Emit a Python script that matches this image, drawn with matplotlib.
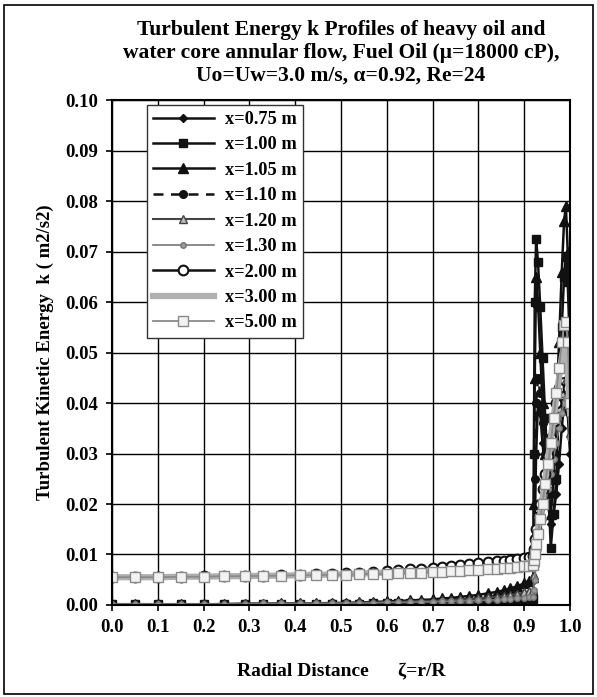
import matplotlib
matplotlib.use("Agg")
import matplotlib.pyplot as plt
from matplotlib.patches import Rectangle

plt.rcParams['font.family'] = ['Liberation Serif', 'DejaVu Serif']
plt.rcParams['font.weight'] = 'bold'

# Radial mesh: core (oil) region and annular (water) region
r_core = [0.00, 0.05, 0.10, 0.15, 0.20, 0.245, 0.29, 0.33, 0.37, 0.41, 0.445,
          0.48, 0.51, 0.54, 0.57, 0.60, 0.625, 0.65, 0.675, 0.70, 0.72, 0.74,
          0.76, 0.78, 0.80, 0.82, 0.84, 0.855, 0.87, 0.885, 0.90, 0.91, 0.92]
r_annulus = [0.921, 0.923, 0.926, 0.93, 0.935, 0.94, 0.946, 0.952, 0.958,
             0.964, 0.97, 0.976, 0.982, 0.987, 0.991, 0.995, 1.0]
r = r_core + r_annulus

k_075 = [0.0000, 0.0000, 0.0000, 0.0000, 0.0000, 0.0000, 0.0000, 0.0000, 0.0001, 0.0001, 0.0001,
         0.0001, 0.0001, 0.0001, 0.0001, 0.0001, 0.0002, 0.0002, 0.0002, 0.0002, 0.0002, 0.0003,
         0.0003, 0.0003, 0.0003, 0.0004, 0.0004, 0.0004, 0.0005, 0.0005, 0.0006, 0.0006, 0.0007,
         0.0050, 0.0150, 0.0300, 0.0400, 0.0380, 0.0320, 0.0260, 0.0200, 0.0160,
         0.0180, 0.0220, 0.0280, 0.0350, 0.0400, 0.0420, 0.0380, 0.0300]
k_100 = [0.0001, 0.0001, 0.0001, 0.0001, 0.0001, 0.0001, 0.0001, 0.0001, 0.0001, 0.0002, 0.0002,
         0.0002, 0.0002, 0.0002, 0.0003, 0.0003, 0.0003, 0.0003, 0.0004, 0.0004, 0.0004, 0.0005,
         0.0005, 0.0006, 0.0006, 0.0007, 0.0007, 0.0008, 0.0008, 0.0009, 0.0010, 0.0010, 0.0011,
         0.0300, 0.0600, 0.0725, 0.0680, 0.0590, 0.0490, 0.0370, 0.0250, 0.0113,
         0.0180, 0.0250, 0.0400, 0.0550, 0.0650, 0.0690, 0.0640, 0.0500]
k_105 = [0.0001, 0.0001, 0.0001, 0.0001, 0.0001, 0.0002, 0.0002, 0.0002, 0.0003, 0.0003, 0.0003,
         0.0004, 0.0004, 0.0005, 0.0006, 0.0007, 0.0008, 0.0009, 0.0010, 0.0011, 0.0013, 0.0014,
         0.0016, 0.0018, 0.0020, 0.0023, 0.0026, 0.0029, 0.0033, 0.0037, 0.0043, 0.0048, 0.0055,
         0.0200, 0.0450, 0.0650, 0.0600, 0.0500, 0.0400, 0.0300, 0.0230, 0.0180,
         0.0250, 0.0380, 0.0520, 0.0660, 0.0760, 0.0790, 0.0700, 0.0560]
k_110 = [0.0001, 0.0001, 0.0001, 0.0001, 0.0001, 0.0001, 0.0002, 0.0002, 0.0002, 0.0002, 0.0002,
         0.0003, 0.0003, 0.0003, 0.0003, 0.0004, 0.0004, 0.0005, 0.0005, 0.0006, 0.0006, 0.0007,
         0.0008, 0.0008, 0.0009, 0.0010, 0.0011, 0.0012, 0.0013, 0.0015, 0.0017, 0.0019, 0.0021,
         0.0100, 0.0250, 0.0400, 0.0450, 0.0420, 0.0360, 0.0300, 0.0250, 0.0220,
         0.0250, 0.0300, 0.0380, 0.0460, 0.0520, 0.0550, 0.0500, 0.0420]
k_120 = [0.0002, 0.0002, 0.0002, 0.0002, 0.0002, 0.0002, 0.0003, 0.0003, 0.0003, 0.0003, 0.0004,
         0.0004, 0.0004, 0.0005, 0.0005, 0.0006, 0.0006, 0.0007, 0.0008, 0.0008, 0.0009, 0.0010,
         0.0011, 0.0012, 0.0013, 0.0015, 0.0016, 0.0018, 0.0020, 0.0022, 0.0025, 0.0027, 0.0030,
         0.0060, 0.0090, 0.0120, 0.0150, 0.0180, 0.0210, 0.0240, 0.0270, 0.0300,
         0.0330, 0.0360, 0.0390, 0.0420, 0.0440, 0.0440, 0.0410, 0.0340]
k_130 = [0.0002, 0.0002, 0.0002, 0.0002, 0.0002, 0.0002, 0.0002, 0.0003, 0.0003, 0.0003, 0.0003,
         0.0003, 0.0004, 0.0004, 0.0004, 0.0005, 0.0005, 0.0005, 0.0006, 0.0006, 0.0007, 0.0007,
         0.0008, 0.0008, 0.0009, 0.0010, 0.0010, 0.0011, 0.0012, 0.0013, 0.0014, 0.0015, 0.0016,
         0.0030, 0.0050, 0.0080, 0.0110, 0.0140, 0.0170, 0.0200, 0.0230, 0.0260,
         0.0290, 0.0320, 0.0350, 0.0380, 0.0400, 0.0410, 0.0390, 0.0330]
k_200 = [0.0055, 0.0055, 0.0056, 0.0056, 0.0057, 0.0057, 0.0058, 0.0058, 0.0059, 0.0060, 0.0061,
         0.0062, 0.0063, 0.0064, 0.0066, 0.0067, 0.0069, 0.0071, 0.0072, 0.0074, 0.0076, 0.0077,
         0.0079, 0.0081, 0.0083, 0.0085, 0.0087, 0.0088, 0.0090, 0.0092, 0.0094, 0.0096, 0.0098,
         0.0110, 0.0130, 0.0150, 0.0175, 0.0200, 0.0230, 0.0260, 0.0295, 0.0330,
         0.0365, 0.0400, 0.0430, 0.0460, 0.0480, 0.0470, 0.0430, 0.0386]
k_300 = [0.0055, 0.0055, 0.0055, 0.0056, 0.0056, 0.0057, 0.0057, 0.0058, 0.0058, 0.0059, 0.0060,
         0.0060, 0.0061, 0.0062, 0.0063, 0.0064, 0.0065, 0.0066, 0.0067, 0.0068, 0.0069, 0.0070,
         0.0071, 0.0072, 0.0073, 0.0075, 0.0076, 0.0077, 0.0078, 0.0080, 0.0082, 0.0084, 0.0086,
         0.0095, 0.0110, 0.0125, 0.0150, 0.0180, 0.0210, 0.0250, 0.0290, 0.0330,
         0.0370, 0.0410, 0.0450, 0.0490, 0.0510, 0.0500, 0.0460, 0.0380]
k_500 = [0.0055, 0.0055, 0.0055, 0.0056, 0.0056, 0.0057, 0.0057, 0.0058, 0.0058, 0.0059, 0.0059,
         0.0060, 0.0060, 0.0061, 0.0062, 0.0062, 0.0063, 0.0064, 0.0064, 0.0065, 0.0066, 0.0067,
         0.0068, 0.0069, 0.0070, 0.0071, 0.0072, 0.0073, 0.0074, 0.0075, 0.0077, 0.0078, 0.0080,
         0.0090, 0.0100, 0.0120, 0.0140, 0.0170, 0.0200, 0.0240, 0.0280, 0.0320,
         0.0370, 0.0420, 0.0470, 0.0520, 0.0555, 0.0560, 0.0520, 0.0400]

labels = ["x=0.75 m", "x=1.00 m", "x=1.05 m", "x=1.10 m", "x=1.20 m",
          "x=1.30 m", "x=2.00 m", "x=3.00 m", "x=5.00 m"]
series = [k_075, k_100, k_105, k_110, k_120, k_130, k_200, k_300, k_500]

styles = [
    dict(color='#111111', lw=1.8, ls='-', marker='D', ms=4, mfc='#111111', mec='#111111'),
    dict(color='#111111', lw=1.8, ls='-', marker='s', ms=5.5, mfc='#111111', mec='#111111'),
    dict(color='#111111', lw=1.8, ls='-', marker='^', ms=6.5, mfc='#111111', mec='#111111'),
    dict(color='#111111', lw=1.8, ls=(0, (4, 3)), marker='o', ms=5.5, mfc='#111111', mec='#111111'),
    dict(color='#444444', lw=1.5, ls='-', marker='^', ms=5.5, mfc='#bbbbbb', mec='#444444'),
    dict(color='#777777', lw=1.2, ls='-', marker='o', ms=4, mfc='#999999', mec='#777777'),
    dict(color='#111111', lw=1.8, ls='-', marker='o', ms=7, mfc='white', mec='#111111', mew=1.5),
    dict(color='#b0b0b0', lw=4.5, ls='-', marker=None),
    dict(color='#8a8a8a', lw=1.3, ls='-', marker='s', ms=7, mfc='#f2f2f2', mec='#8a8a8a'),
]

fig = plt.figure(figsize=(5.97, 6.97), dpi=100)
ax = fig.add_axes([0.1876, 0.132, 0.7672, 0.7245])

for k, lab, st in zip(series, labels, styles):
    ax.plot(r, k, label=lab, **st)

ax.set_xlim(0.0, 1.0)
ax.set_ylim(0.0, 0.10)
ax.set_xticks([i / 10 for i in range(11)])
ax.set_yticks([i / 100 for i in range(11)])
ax.set_xticklabels([f"{i / 10:.1f}" for i in range(11)])
ax.set_yticklabels([f"{i / 100:.2f}" for i in range(11)])
ax.tick_params(direction='out', length=4, width=1.2, labelsize=13.5, pad=6)
ax.grid(True, color='black', lw=1.0)
ax.set_axisbelow(True)
for sp in ax.spines.values():
    sp.set_linewidth(1.5)

ax.set_title("Turbulent Energy k Profiles of heavy oil and\n"
             "water core annular flow, Fuel Oil (\u03bc=18000 cP),\n"
             "Uo=Uw=3.0 m/s, \u03b1=0.92, Re=24",
             fontsize=15.5, fontweight='bold', pad=14, linespacing=1.2)
ax.set_ylabel("Turbulent Kinetic Energy  k ( m2/s2)", fontsize=13.5, fontweight='bold', labelpad=8)
ax.set_xlabel("Radial Distance      \u03b6=r/R", fontsize=14, fontweight='bold', labelpad=20)

leg = ax.legend(loc='upper left', bbox_to_anchor=(0.066, 1.0), fontsize=13.2,
                handlelength=3.3, labelspacing=0.46, fancybox=False, framealpha=1,
                edgecolor='#333333', borderpad=0.35, handletextpad=0.6, borderaxespad=0.25)
leg.get_frame().set_linewidth(1.0)

fig.patches.append(Rectangle((0.006, 0.004), 0.987, 0.989, transform=fig.transFigure,
                             fill=False, edgecolor='black', lw=1.2))

fig.savefig("out.png", dpi=100)
